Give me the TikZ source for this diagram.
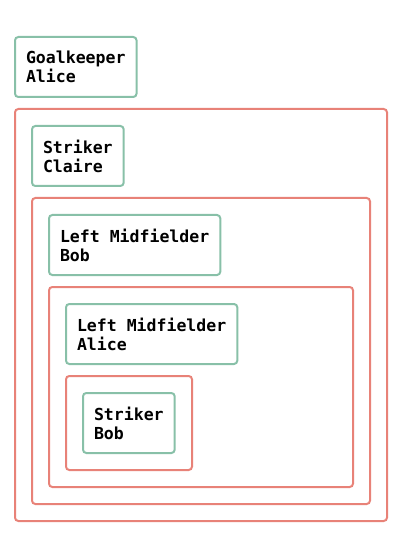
\documentclass[tikz,border=0pt]{standalone}
\usepackage{fontspec}
\setmonofont{DejaVu Sans Mono}
\definecolor{playergreen}{RGB}{136,192,168}
\definecolor{teamred}{RGB}{232,130,120}
\tikzset{
  player/.style={draw=playergreen, line width=1.5pt, rounded corners=2.5pt,
    anchor=north west, align=left, inner xsep=8.25pt, minimum height=45pt,
    font=\ttfamily\bfseries\fontsize{12.4}{14.25}\selectfont},
  team/.style={draw=teamred, line width=1.5pt, rounded corners=2.5pt,
    anchor=north west, inner sep=0pt}
}
\begin{document}
\begin{tikzpicture}[x=0.75pt,y=-0.75pt]
  \useasboundingbox (0,0) rectangle (400,534);
  % lone player
  \node[player] (gkalice) at (14,36) {Goalkeeper\\Alice};
  % nested teams
  \node[team, minimum width=279pt, minimum height=309pt] (teamA) at (14,108) {};
  \node[player] (stclaire) at (31,125) {Striker\\Claire};
  \node[team, minimum width=253.5pt, minimum height=229.5pt] (teamB) at (31,197) {};
  \node[player] (lmbob) at (48,214) {Left Midfielder\\Bob};
  \node[team, minimum width=228pt, minimum height=150pt] (teamC) at (48,286) {};
  \node[player] (lmalice) at (65,303) {Left Midfielder\\Alice};
  \node[team, minimum width=94.5pt, minimum height=70.5pt] (teamD) at (65,375) {};
  \node[player] (stbob) at (82,392) {Striker\\Bob};
\end{tikzpicture}
\end{document}
